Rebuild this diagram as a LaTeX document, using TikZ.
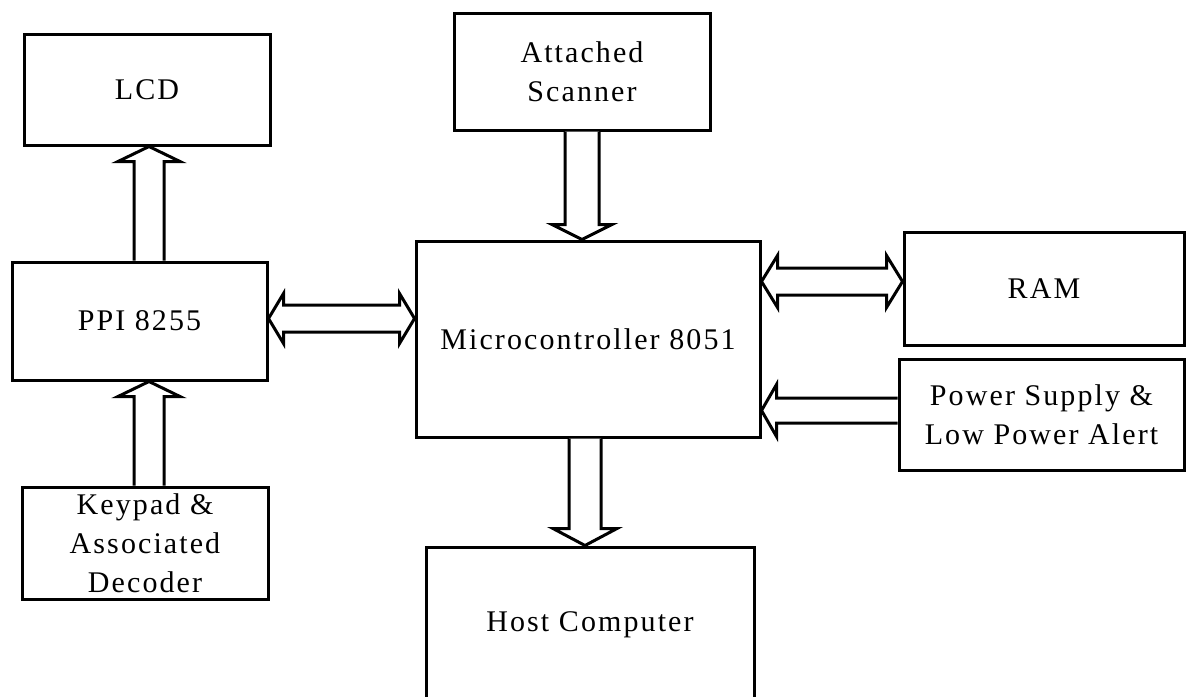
\documentclass[tikz,border=0pt]{standalone}
\usepackage{fontspec}
\setmainfont{Liberation Serif}[LetterSpace=7]
\usetikzlibrary{calc}
\tikzset{
  blockbox/.style={draw, line width=1.5pt, align=center, inner sep=0pt,
    font=\fontsize{15pt}{19.5pt}\selectfont},
  blk/.style={draw, line width=1.5pt, line join=miter, fill=white}
}
% single block arrow: #1 tail, #2 tip, #3 shaft half width, #4 head half width, #5 head length
\newcommand\sarrow[5]{%
  \coordinate (hb) at ($(#2)!#5!(#1)$);
  \draw[blk] ($(#1)!#3!90:(#2)$) -- ($(hb)!#3!90:(#2)$) -- ($(hb)!#4!90:(#2)$)
    -- (#2) -- ($(hb)!#4!-90:(#2)$) -- ($(hb)!#3!-90:(#2)$) -- ($(#1)!#3!-90:(#2)$);
}
% double block arrow between #1 and #2
\newcommand\darrow[5]{%
  \coordinate (ha) at ($(#1)!#5!(#2)$);
  \coordinate (hb) at ($(#2)!#5!(#1)$);
  \draw[blk] (#1) -- ($(ha)!#4!90:(#1)$) -- ($(ha)!#3!90:(#1)$) --
    ($(hb)!#3!-90:(#2)$) -- ($(hb)!#4!-90:(#2)$) -- (#2) --
    ($(hb)!#4!90:(#2)$) -- ($(hb)!#3!90:(#2)$) --
    ($(ha)!#3!-90:(#1)$) -- ($(ha)!#4!-90:(#1)$) -- cycle;
}
\begin{document}
\begin{tikzpicture}[x=0.5pt,y=-0.5pt]
\clip (0,0) rectangle (1186,696);
\useasboundingbox (0,0) rectangle (1186,696);
\fill[white] (0,0) rectangle (1186,696);

\node[blockbox, minimum width=123pt, minimum height=55.5pt] (lcd) at (147,89.5) {LCD};
\node[blockbox, minimum width=128pt, minimum height=58.5pt] (scan) at (582,71.5) {Attached\\Scanner};
\node[blockbox, minimum width=127.5pt, minimum height=59pt] (ppi) at (139.5,321) {PPI 8255};
\node[blockbox, minimum width=172pt, minimum height=98pt] (mc) at (588,339) {\raisebox{-2pt}{Microcontroller 8051}};
\node[blockbox, minimum width=140pt, minimum height=56.5pt] (ram) at (1044,288.5) {RAM};
\node[blockbox, minimum width=142.5pt, minimum height=55.5pt] (pwr) at (1041.5,414.5) {Power Supply \&\\Low Power Alert};
\node[blockbox, minimum width=123pt, minimum height=56pt] (key) at (145,543) {Keypad \&\\Associated\\Decoder};
\node[blockbox, minimum width=164pt, minimum height=78pt] (host) at (590,625) {Host Computer};

% arrows
\coordinate (t1) at ($(lcd.south)+(2,0)$);
\coordinate (b1) at (t1 |- ppi.north);
\sarrow{b1}{t1}{7.5pt}{15.5pt}{7.5pt}

\coordinate (t2) at (t1 |- ppi.south);
\coordinate (b2) at (t1 |- key.north);
\sarrow{b2}{t2}{7.5pt}{15.5pt}{7.5pt}

\coordinate (b3) at (scan.south);
\coordinate (t3) at (b3 |- mc.north);
\sarrow{b3}{t3}{8.5pt}{15pt}{7.5pt}

\coordinate (t4) at (host.north -| 585,0);
\coordinate (b4) at (t4 |- mc.south);
\sarrow{b4}{t4}{8pt}{16pt}{8.5pt}

\coordinate (l5) at ($(ppi.east)+(0,-2.5)$);
\coordinate (r5) at (l5 -| mc.west);
\darrow{l5}{r5}{6.75pt}{12.5pt}{7.5pt}

\coordinate (r6) at ($(ram.west)+(0,-7)$);
\coordinate (l6) at (r6 -| mc.east);
\darrow{l6}{r6}{6.75pt}{13pt}{8pt}

\coordinate (r7) at ($(pwr.west)+(0,-4)$);
\coordinate (l7) at (r7 -| mc.east);
\sarrow{r7}{l7}{6.25pt}{13pt}{7.5pt}
\end{tikzpicture}
\end{document}
